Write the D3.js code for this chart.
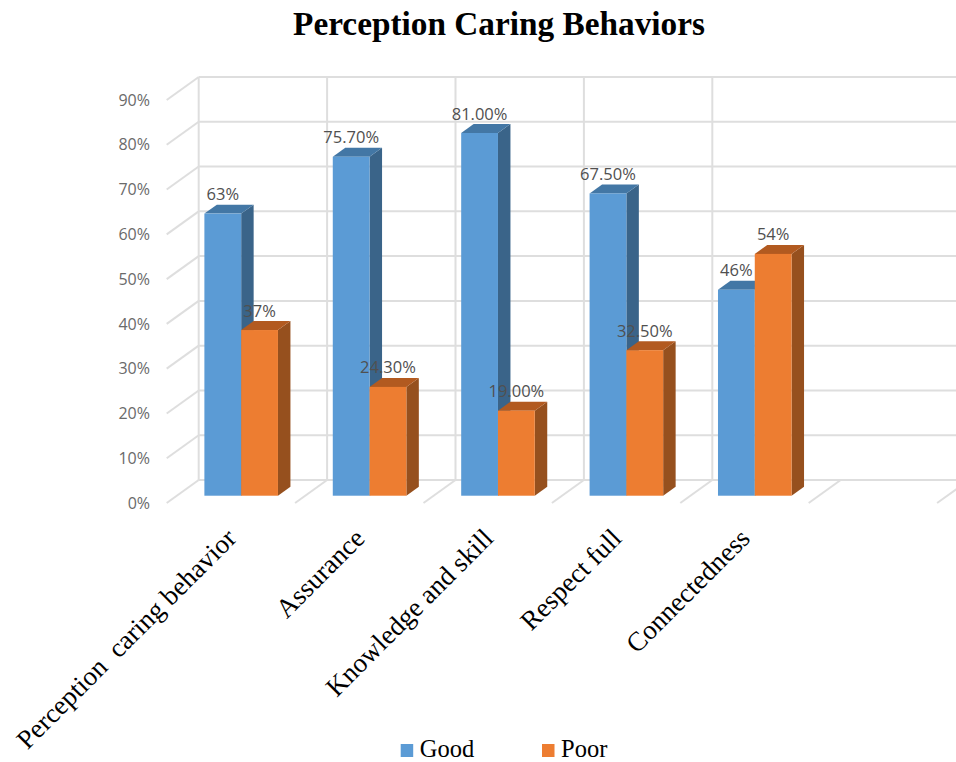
<!DOCTYPE html>
<html>
<head>
<meta charset="utf-8">
<script src="https://cdn.jsdelivr.net/npm/d3@7"></script>
<style>
html,body{margin:0;padding:0;background:#fff;overflow:hidden}
svg{display:block}
</style>
</head>
<body>
<svg id="chart" width="956" height="762"></svg>
<script>
// Chart values
const categories = ["Perception  caring behavior", "Assurance", "Knowledge and skill", "Respect full", "Connectedness", ""];
const good = [63, 75.7, 81, 67.5, 46, null];
const poor = [37, 24.3, 19, 32.5, 54, null];
const goodLabels = ["63%", "75.70%", "81.00%", "67.50%", "46%", ""];
const poorLabels = ["37%", "24.30%", "19.00%", "32.50%", "54%", ""];
const valueTicks = [0, 10, 20, 30, 40, 50, 60, 70, 80, 90];
const seriesNames = ["Good", "Poor"];

// Colours: front, side and top faces of each series
const faces = {
  Good: {front: "#5B9BD5", side: "#3A6489", top: "#4377A5"},
  Poor: {front: "#ED7D31", side: "#96501E", top: "#B25A20"}
};
const gridColor = "#DEDEDE";

const svg = d3.select("#chart");

// Front plane of the floor; the back wall is offset from it by the oblique shift
const x = d3.scaleBand().domain(categories).range([166.7, 937.1]);
const y = d3.scaleLinear().domain([0, 90]).range([503, 100]);
const shiftX = 32, shiftY = 23;
const barDepthStart = 0.317, barDepthEnd = 0.707;
const groupInset = 0.2145, barShare = 0.2865;

// Oblique projection: plane x, value and depth (0 front, 1 back wall)
const proj = (px, v, d) => [px + d * shiftX, y(v) - d * shiftY];
const line = d3.line();

const grid = svg.append("g")
  .attr("fill", "none").attr("stroke", gridColor).attr("stroke-width", 2);

// Horizontal lines on the back wall, diagonals on the side wall
valueTicks.forEach(t => {
  grid.append("path").attr("d", line([proj(x.range()[0], t, 1), [956, y(t) - shiftY]]));
  grid.append("path").attr("d", line([proj(x.range()[0], t, 0), proj(x.range()[0], t, 1)]));
});

// Vertical lines on the back wall and diagonals across the floor
const boundaries = categories.map(c => x(c));
boundaries.forEach((b, i) => {
  if (i < 5) grid.append("path").attr("d", line([proj(b, 0, 1), proj(b, 90, 1)]));
  if (i > 0) grid.append("path").attr("d", line([proj(b, 0, 0), proj(b, 0, 1)]));
});
grid.append("path").attr("d", line([proj(x.range()[1], 0, 0), proj(x.range()[1], 0, 1)]));

// Value axis
const yAxis = d3.axisLeft(y)
  .tickValues(valueTicks)
  .tickSize(0)
  .tickPadding(0)
  .tickFormat(d => d + "%");
const yG = svg.append("g").attr("transform", "translate(150,0)").call(yAxis);
yG.select(".domain").remove();
yG.selectAll("text")
  .attr("font-family", "'Open Sans', sans-serif")
  .attr("font-size", 16)
  .attr("fill", "#6A6A6A");

// One extruded bar: side, top, then front
function drawBar(g, left, width, v, colors) {
  const right = left + width;
  const d0 = barDepthStart, d1 = barDepthEnd;
  g.append("path").attr("fill", colors.side).attr("d", line([
    proj(right, 0, d0), proj(right, v, d0), proj(right, v, d1), proj(right, 0, d1)
  ]) + "Z");
  g.append("path").attr("fill", colors.top).attr("d", line([
    proj(left, v, d0), proj(left, v, d1), proj(right, v, d1), proj(right, v, d0)
  ]) + "Z");
  const tl = proj(left, v, d0), br = proj(right, 0, d0);
  g.append("rect").attr("fill", colors.front)
    .attr("x", tl[0]).attr("y", tl[1])
    .attr("width", br[0] - tl[0]).attr("height", br[1] - tl[1]);
}

const bw = x.bandwidth() * barShare;
const bars = svg.append("g");
categories.forEach((c, i) => {
  if (good[i] === null) return;
  const start = x(c) + x.bandwidth() * groupInset;
  drawBar(bars, start, bw, good[i], faces.Good);
  drawBar(bars, start + bw, bw, poor[i], faces.Poor);
});

// Value labels above each bar
const labels = svg.append("g")
  .attr("font-family", "'Open Sans', sans-serif")
  .attr("font-size", 16.5)
  .attr("fill", "#505050")
  .attr("text-anchor", "middle")
  .attr("dominant-baseline", "central");
categories.forEach((c, i) => {
  if (good[i] === null) return;
  const start = x(c) + x.bandwidth() * groupInset;
  const gp = proj(start + bw / 2, good[i], barDepthStart);
  const pp = proj(start + bw * 1.5, poor[i], barDepthStart);
  labels.append("text").attr("x", gp[0]).attr("y", gp[1] - 20).text(goodLabels[i]);
  labels.append("text").attr("x", pp[0]).attr("y", pp[1] - 20).text(poorLabels[i]);
});

// Slanted category labels, ending under each group
const catLabels = svg.append("g")
  .attr("font-family", "'Liberation Serif', serif")
  .attr("font-size", 27)
  .attr("fill", "#000")
  .attr("text-anchor", "end");
categories.forEach(c => {
  if (!c) return;
  const cx = x(c) + x.bandwidth() * 0.5 + 7;
  catLabels.append("text")
    .attr("transform", `translate(${cx},${y(0) + 37}) rotate(-45)`)
    .attr("xml:space", "preserve")
    .style("white-space", "pre")
    .text(c);
});

// Title
svg.append("text")
  .attr("x", 499).attr("y", 35)
  .attr("text-anchor", "middle")
  .attr("font-family", "'Liberation Serif', serif")
  .attr("font-weight", "bold")
  .attr("font-size", 33.3)
  .attr("fill", "#000")
  .text("Perception Caring Behaviors");

// Legend
const legendX = d3.scalePoint().domain(seriesNames).range([400.7, 542]);
const legend = svg.append("g");
seriesNames.forEach(n => {
  legend.append("rect")
    .attr("x", legendX(n)).attr("y", 744).attr("width", 12.5).attr("height", 13)
    .attr("fill", faces[n].front);
  legend.append("text")
    .attr("x", legendX(n) + 19).attr("y", 756.5)
    .attr("font-family", "'Liberation Serif', serif")
    .attr("font-size", 24.5)
    .attr("fill", "#000")
    .text(n);
});
</script>
</body>
</html>
